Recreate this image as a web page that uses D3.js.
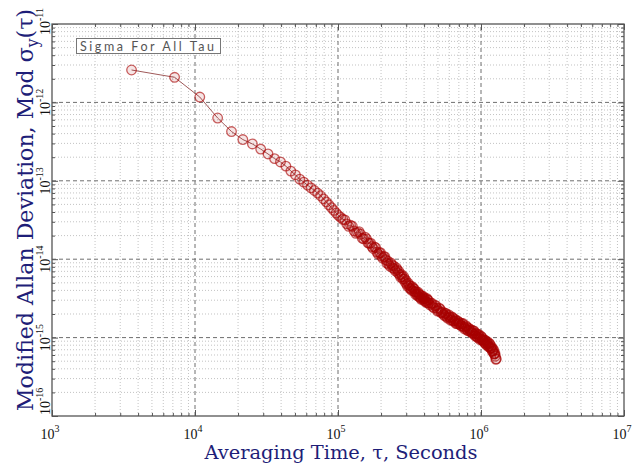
<!DOCTYPE html>
<html>
<head>
<meta charset="utf-8">
<script src="https://cdn.jsdelivr.net/npm/d3@7"></script>
<style>
    body { margin: 0; background: #fff; }
    svg { display: block; }
</style>
</head>
<body>
<svg id="svg_adev" width="634" height="467"></svg>
<script>
// averaging time in hours (tau = hours * 3600 s)
const tauHours = [
    1, 2, 3, 4, 5, 6, 7, 8, 9, 10, 11, 12, 13, 14, 15, 16, 17, 18, 19, 20,
    21, 22, 23, 24, 25, 26, 27, 28, 29, 30, 31, 32, 33, 34, 35, 36, 37, 38, 39, 40,
    41, 42, 43, 44, 45, 46, 47, 48, 49, 50, 51, 52, 53, 54, 55, 56, 57, 58, 59, 60,
    61, 62, 63, 64, 65, 66, 67, 68, 69, 70, 71, 72, 73, 74, 75, 76, 77, 78, 79, 80,
    81, 82, 83, 84, 85, 86, 87, 88, 89, 90, 91, 92, 93, 94, 95, 96, 97, 98, 99, 100,
    101, 102, 103, 104, 105, 106, 107, 108, 109, 110, 111, 112, 113, 114, 115, 116, 117, 118, 119, 120,
    122, 124, 126, 128, 130, 132, 134, 136, 138, 140, 142, 144, 146, 148, 150, 152, 154, 156, 158, 160,
    162, 164, 166, 168, 170, 172, 174, 176, 178, 180, 182, 184, 186, 188, 190, 192, 194, 196, 198, 200,
    203, 205, 208, 210, 213, 215, 218, 220, 223, 225, 228, 230, 233, 235, 238, 240, 243, 245, 248, 250,
    253, 255, 258, 260, 263, 265, 268, 270, 273, 275, 278, 280, 283, 285, 288, 290, 293, 295, 298, 300,
    303, 305, 308, 310, 313, 315, 318, 320, 323, 325, 328, 330, 333, 335, 338, 340, 343, 345, 348, 350,
    353, 355
];

// Mod sigma_y(tau) (band centre plus its spread)
const modSigma = [
    2.59e-12, 2.09e-12, 1.17e-12, 6.32e-13, 4.25e-13, 3.36e-13, 2.95e-13, 2.54e-13, 2.20e-13, 1.92e-13,
    1.74e-13, 1.54e-13, 1.33e-13, 1.19e-13, 1.05e-13, 9.62e-14, 8.81e-14, 8.12e-14, 7.52e-14, 6.97e-14,
    6.45e-14, 5.88e-14, 5.38e-14, 4.94e-14, 4.54e-14, 4.19e-14, 3.88e-14, 3.61e-14, 3.41e-14, 3.23e-14,
    3.17e-14, 2.82e-14, 2.63e-14, 2.71e-14, 2.63e-14, 2.30e-14, 2.14e-14, 2.20e-14, 2.25e-14, 2.08e-14,
    1.85e-14, 1.82e-14, 1.91e-14, 1.81e-14, 1.62e-14, 1.59e-14, 1.60e-14, 1.45e-14, 1.37e-14, 1.43e-14,
    1.40e-14, 1.23e-14, 1.16e-14, 1.21e-14, 1.21e-14, 1.09e-14, 1.03e-14, 1.08e-14, 1.08e-14, 9.82e-15,
    8.93e-15, 9.45e-15, 8.58e-15, 8.13e-15, 8.96e-15, 8.51e-15, 7.76e-15, 8.22e-15, 7.50e-15, 7.09e-15,
    7.78e-15, 7.37e-15, 6.67e-15, 7.01e-15, 6.34e-15, 5.91e-15, 6.41e-15, 5.98e-15, 5.57e-15, 6.02e-15,
    5.61e-15, 5.07e-15, 5.32e-15, 4.80e-15, 4.52e-15, 4.95e-15, 4.67e-15, 4.28e-15, 4.56e-15, 4.18e-15,
    4.00e-15, 4.45e-15, 4.27e-15, 3.91e-15, 4.17e-15, 3.82e-15, 3.55e-15, 3.84e-15, 3.58e-15, 3.41e-15,
    3.78e-15, 3.61e-15, 3.30e-15, 3.51e-15, 3.21e-15, 3.08e-15, 3.42e-15, 3.29e-15, 3.08e-15, 3.34e-15,
    3.13e-15, 2.91e-15, 3.15e-15, 2.93e-15, 2.82e-15, 3.16e-15, 3.05e-15, 2.80e-15, 2.99e-15, 2.75e-15,
    2.61e-15, 2.74e-15, 2.74e-15, 2.48e-15, 2.39e-15, 2.55e-15, 2.58e-15, 2.37e-15, 2.18e-15, 2.22e-15,
    2.37e-15, 2.30e-15, 2.08e-15, 2.08e-15, 2.13e-15, 1.98e-15, 1.91e-15, 2.04e-15, 2.04e-15, 1.84e-15,
    1.77e-15, 1.89e-15, 1.94e-15, 1.81e-15, 1.67e-15, 1.71e-15, 1.84e-15, 1.79e-15, 1.62e-15, 1.62e-15,
    1.72e-15, 1.65e-15, 1.51e-15, 1.52e-15, 1.64e-15, 1.60e-15, 1.48e-15, 1.51e-15, 1.55e-15, 1.44e-15,
    1.40e-15, 1.50e-15, 1.51e-15, 1.38e-15, 1.29e-15, 1.33e-15, 1.42e-15, 1.37e-15, 1.24e-15, 1.24e-15,
    1.32e-15, 1.28e-15, 1.19e-15, 1.23e-15, 1.25e-15, 1.16e-15, 1.13e-15, 1.22e-15, 1.22e-15, 1.10e-15,
    1.05e-15, 1.12e-15, 1.13e-15, 1.03e-15, 1.00e-15, 1.08e-15, 1.10e-15, 1.02e-15, 9.45e-16, 9.71e-16,
    1.04e-15, 1.02e-15, 9.29e-16, 9.35e-16, 9.60e-16, 8.94e-16, 8.64e-16, 9.24e-16, 9.23e-16, 8.34e-16,
    8.05e-16, 8.61e-16, 8.87e-16, 8.29e-16, 7.66e-16, 7.84e-16, 8.43e-16, 8.21e-16, 7.38e-16, 7.33e-16,
    7.71e-16, 7.35e-16, 6.69e-16, 6.73e-16, 7.14e-16, 6.87e-16, 6.20e-16, 6.18e-16, 6.29e-16, 5.79e-16,
    5.29e-16, 5.35e-16
];

const xTickValues = [1e3, 1e4, 1e5, 1e6, 1e7];
const xTickExps = ["3", "4", "5", "6", "7"];
const yTickValues = [1e-16, 1e-15, 1e-14, 1e-13, 1e-12, 1e-11];
const yTickExps = ["-16", "-15", "-14", "-13", "-12", "-11"];

const legendLabel = "Sigma For All Tau";
const xTitle = "Averaging Time, \u03c4, Seconds";

const padding = { top: 24, right: 10, bottom: 51, left: 52 };
const width = 634, height = 467;

let svg = d3.select("#svg_adev");

let data = tauHours.map((h, i) => ({ tau: h * 3600, sigma: modSigma[i] }));

let xScale = d3.scaleLog()
    .domain([1e3, 1e7])
    .range([padding.left, width - padding.right]);

let yScale = d3.scaleLog()
    .domain([1e-16, 1e-11])
    .range([height - padding.bottom, padding.top]);

const isMajor = v => Math.abs(Math.log10(v) - Math.round(Math.log10(v))) < 1e-9;
let xMinor = xScale.ticks().filter(v => !isMajor(v));
let yMinor = yScale.ticks().filter(v => !isMajor(v));

const x0 = padding.left, x1 = width - padding.right;
const y0 = height - padding.bottom, y1 = padding.top;

// grid - minor dotted, major dashed
let grid = svg.append("g").attr("id", "grid");
grid.selectAll(".vminor").data(xMinor).enter().append("line")
    .attr("x1", d => xScale(d)).attr("x2", d => xScale(d))
    .attr("y1", y0).attr("y2", y1)
    .attr("stroke", "#b4b4b4").attr("stroke-width", 0.8).attr("stroke-dasharray", "1,2");
grid.selectAll(".hminor").data(yMinor).enter().append("line")
    .attr("y1", d => yScale(d)).attr("y2", d => yScale(d))
    .attr("x1", x0).attr("x2", x1)
    .attr("stroke", "#b4b4b4").attr("stroke-width", 0.8).attr("stroke-dasharray", "1,2");
grid.selectAll(".vmajor").data(xTickValues.slice(1, -1)).enter().append("line")
    .attr("x1", d => xScale(d)).attr("x2", d => xScale(d))
    .attr("y1", y0).attr("y2", y1)
    .attr("stroke", "#6e6e6e").attr("stroke-width", 1).attr("stroke-dasharray", "4,3");
grid.selectAll(".hmajor").data(yTickValues.slice(1, -1)).enter().append("line")
    .attr("y1", d => yScale(d)).attr("y2", d => yScale(d))
    .attr("x1", x0).attr("x2", x1)
    .attr("stroke", "#6e6e6e").attr("stroke-width", 1).attr("stroke-dasharray", "4,3");

// inside ticks on all four sides
function tickAxis(axis, values, size, transform) {
    let g = svg.append("g")
        .attr("transform", transform)
        .call(axis.tickValues(values).tickSize(size).tickFormat(""));
    g.select(".domain").remove();
    g.selectAll(".tick line").attr("stroke", "#555");
}
tickAxis(d3.axisBottom(xScale), xTickValues, -6, "translate(0," + y0 + ")");
tickAxis(d3.axisBottom(xScale), xMinor, -3, "translate(0," + y0 + ")");
tickAxis(d3.axisTop(xScale), xTickValues, -6, "translate(0," + y1 + ")");
tickAxis(d3.axisTop(xScale), xMinor, -3, "translate(0," + y1 + ")");
tickAxis(d3.axisLeft(yScale), yTickValues, -6, "translate(" + x0 + ",0)");
tickAxis(d3.axisLeft(yScale), yMinor, -3, "translate(" + x0 + ",0)");
tickAxis(d3.axisRight(yScale), yTickValues, -6, "translate(" + x1 + ",0)");
tickAxis(d3.axisRight(yScale), yMinor, -3, "translate(" + x1 + ",0)");

// frame
svg.append("rect")
    .attr("x", x0).attr("y", y1)
    .attr("width", x1 - x0).attr("height", y0 - y1)
    .attr("fill", "none").attr("stroke", "#555").attr("stroke-width", 1.3);

// legend box
let legend = svg.append("g").attr("id", "legend");
legend.append("rect")
    .attr("x", 76.5).attr("y", 38.5).attr("width", 144).attr("height", 15)
    .attr("fill", "#fff").attr("stroke", "#777").attr("stroke-width", 1);
legend.append("text")
    .attr("x", 80).attr("y", 50.5)
    .attr("font-family", "Lato, 'DejaVu Sans', sans-serif")
    .attr("font-size", 12.5)
    .attr("fill", "#555")
    .attr("textLength", 134)
    .text(legendLabel);

// series: connecting line then circles
let line = d3.line()
    .x(d => xScale(d.tau))
    .y(d => yScale(d.sigma));

svg.append("path")
    .datum(data)
    .attr("d", line)
    .attr("fill", "none")
    .attr("stroke", "#a05a5a")
    .attr("stroke-width", 1);

// faint fill so the heavily overlapped tail reads as a solid band
svg.append("g").attr("id", "points")
    .selectAll("circle")
    .data(data)
    .enter()
    .append("circle")
        .attr("cx", d => xScale(d.tau))
        .attr("cy", d => yScale(d.sigma))
        .attr("r", 4.8)
        .attr("fill", "#a80000")
        .attr("fill-opacity", 0.1)
        .attr("stroke", "#a80000")
        .attr("stroke-opacity", 0.62)
        .attr("stroke-width", 1.3);

// x tick labels 10^n
let xLab = svg.append("g").attr("font-family", "'Liberation Serif', 'Times New Roman', serif")
    .attr("fill", "#111");
xTickValues.forEach((v, i) => {
    let t = xLab.append("text")
        .attr("x", xScale(v) - 2).attr("y", 439)
        .attr("text-anchor", "middle")
        .attr("font-size", 14);
    t.append("tspan").text("10");
    t.append("tspan").attr("dy", -7).attr("font-size", 10).text(xTickExps[i]);
});

// y tick labels, rotated
let yLab = svg.append("g").attr("font-family", "'Liberation Serif', 'Times New Roman', serif")
    .attr("fill", "#111");
yTickValues.forEach((v, i) => {
    let yy = yScale(v);
    let anchor = "middle";
    if (i === yTickValues.length - 1) { yy = yy + 11; anchor = "start"; }
    if (i === 0) { yy = yy - 1; anchor = "start"; }
    let t = yLab.append("text")
        .attr("transform", "translate(50," + yy + ") rotate(-90)")
        .attr("text-anchor", anchor)
        .attr("font-size", 14);
    t.append("tspan").text("10");
    t.append("tspan").attr("dy", -7).attr("font-size", 10).text(yTickExps[i]);
});

// axis titles
svg.append("text")
    .attr("x", 341).attr("y", 459)
    .attr("text-anchor", "middle")
    .attr("font-family", "'DejaVu Serif', serif")
    .attr("font-size", 18)
    .attr("textLength", 273)
    .attr("lengthAdjust", "spacingAndGlyphs")
    .attr("fill", "#1e1e78")
    .text(xTitle);

let yt = svg.append("text")
    .attr("transform", "translate(33,210) rotate(-90)")
    .attr("text-anchor", "middle")
    .attr("font-family", "'DejaVu Serif', serif")
    .attr("font-size", 23)
    .attr("textLength", 402)
    .attr("lengthAdjust", "spacingAndGlyphs")
    .attr("fill", "#1e1e78");
yt.append("tspan").text("Modified Allan Deviation, Mod \u03c3");
yt.append("tspan").attr("dy", 5).attr("font-size", 16).text("y");
yt.append("tspan").attr("dy", -5).text("(\u03c4)");
</script>
</body>
</html>
